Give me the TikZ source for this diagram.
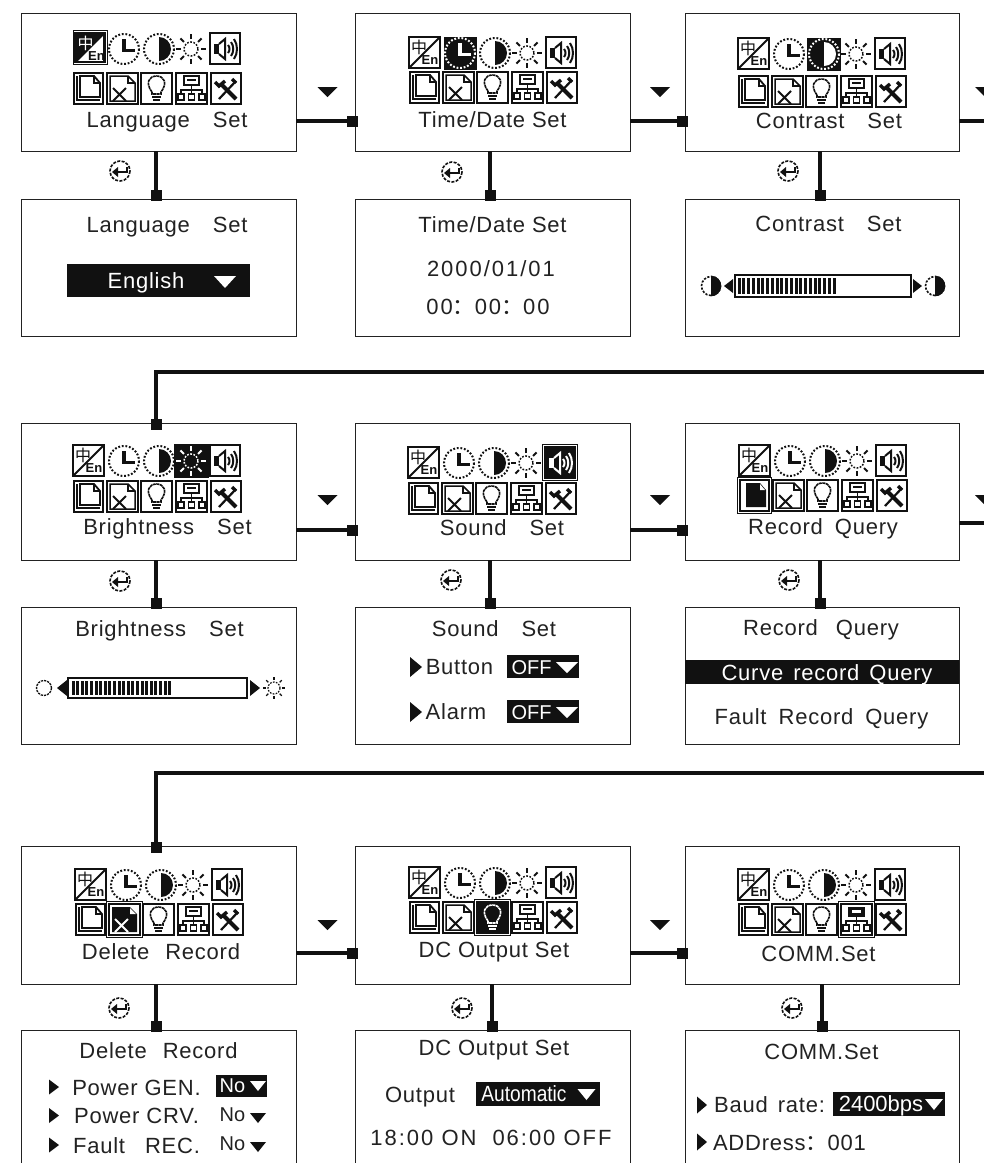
\documentclass[tikz,border=0pt]{standalone}
\usepackage{fontspec}
\setmainfont{Liberation Sans}
\newfontfamily\lcd[LetterSpace=3.5]{Liberation Sans}
\newfontfamily\lcdw[LetterSpace=9]{Liberation Sans}
\newfontfamily\lcdn[FakeStretch=0.87]{Liberation Sans}
\newfontfamily\cjk{Noto Sans CJK SC}
\definecolor{ink}{HTML}{111111}
\definecolor{txt}{HTML}{222222}
\tikzset{
  x=1pt,y=-1pt,
  screen/.style={draw=txt,line width=1,fill=white,inner sep=0,outer sep=0,minimum width=#1},
  link/.style={draw=ink,line width=3.4},
  sq/.style={fill=ink,inner sep=0,minimum size=11pt,outer sep=0},
  label/.style={font=\fontsize{22}{24}\selectfont\lcd,text=txt,inner sep=0,anchor=base},
  widelabel/.style={label,font=\fontsize{22}{24}\selectfont\lcdw},
  wlabel/.style={label,text=white},
  plainw/.style={label,text=white,font=\fontsize{#1}{24}\selectfont\rmfamily},
  narrow/.style={label,text=white,font=\fontsize{22}{24}\selectfont\lcdn},
  smallno/.style={label,font=\fontsize{20}{22}\selectfont\rmfamily},
  iframe/.style={draw=ink,line width=2.6},
  idots/.style={line width=2,dash pattern=on 1.8pt off 1.8pt},
  thinframe/.style={draw=ink,line width=0.8},
}
\newcommand\seticon[2]{\ifnum#1=#2\relax\colorlet{fg}{white}\colorlet{bg}{ink}\else\colorlet{fg}{ink}\colorlet{bg}{white}\fi}
\newcommand\tridown[5]{\fill[#5] (#1-#3/2,#2) -- (#1+#3/2,#2) -- (#1,#2+#4) -- cycle;}
\newcommand\triright[5]{\fill[#5] (#1,#2-#4/2) -- (#1+#3,#2) -- (#1,#2+#4/2) -- cycle;}
\newcommand\trileft[5]{\fill[#5] (#1,#2-#4/2) -- (#1-#3,#2) -- (#1,#2+#4/2) -- cycle;}
\newcommand\moon[3]{%
  \draw[ink,line width=1.6,dash pattern=on 2.2pt off 1.5pt] (#1,#2) circle[radius=#3];
  \begin{scope}\clip (#1,#2-#3-2) rectangle (#1+#3+2,#2+#3+2);
  \fill[ink] (#1,#2) circle[radius=#3+0.8];\end{scope}}
\newcommand\enter[2]{%
  \draw[ink,line width=1.6,dash pattern=on 3pt off 1.4pt] (#1,#2) circle[radius=10];
  \draw[ink,line width=2.2] (#1+7,#2-4) -- (#1+7,#2+1) -- (#1-4,#2+1);
  \fill[ink] (#1-8,#2+1) -- (#1-2,#2-4) -- (#1-2,#2+6) -- cycle;}
% #1 name, #2 x, #3 y, #4 row pitch, #5 selected icon
\newcommand\panel[5]{%
\begin{scope}[shift={(#2,#3)}]
  % language
  \ifnum#5=1\relax\def\langshift{2.5}\else\def\langshift{0}\fi
  \begin{scope}[shift={(\langshift,0)}]\seticon{1}{#5}
    \ifnum#5=1\relax
      \draw[thinframe] (-2.5,-2.5) rectangle (31.5,31.5);
      \fill[ink] (0,0) -- (29,0) -- (0,29) -- cycle;
      \draw[iframe] (0,0) rectangle (29,29);
      \draw[ink,line width=1.8] (0,29) -- (29,0);
    \else
      \draw[iframe] (0,0) rectangle (31,31);
      \draw[ink,line width=1.8] (0,31) -- (31,0);
    \fi
    \node[text=fg,inner sep=0,font=\fontsize{16}{16}\selectfont\cjk] (#1zh) at (10,10) {中};
    \node[text=ink,inner sep=0,font=\fontsize{13}{13}\selectfont\bfseries] (#1en) at (21,23) {En};
  \end{scope}
  % clock
  \begin{scope}\seticon{2}{#5}
    \ifnum#5=2\relax\fill[ink] (35,0) rectangle (68,33);\fi
    \draw[fg,idots] (51,16) circle[radius=15];
    \draw[fg,line width=3.2] (51,6) -- (51,17.5) -- (62,17.5);
  \end{scope}
  % contrast
  \begin{scope}\seticon{3}{#5}
    \ifnum#5=3\relax\fill[ink] (69,0) rectangle (103,33);\fi
    \draw[fg,idots] (86,16) circle[radius=15];
    \begin{scope}\clip (86,0) rectangle (103,33);
      \fill[fg] (86,16) circle[radius=12];\end{scope}
  \end{scope}
  % brightness
  \begin{scope}\seticon{4}{#5}
    \ifnum#5=4\relax\fill[ink] (101,-1) rectangle (136,33);\fi
    \draw[fg,line width=1.5,dash pattern=on 1.7pt off 1.5pt] (118,16) circle[radius=7];
    \foreach \a in {0,45,...,315}{\draw[fg,line width=2] ([shift={(\a:10)}]118,16) -- ([shift={(\a:15)}]118,16);}
  \end{scope}
  % sound
  \begin{scope}\seticon{5}{#5}
    \ifnum#5=5\relax
      \draw[thinframe] (134.5,-2.5) rectangle (169.5,33.5);
      \fill[ink] (137,0) rectangle (167,31);
    \fi
    \draw[iframe] (137,0) rectangle (167,31);
    \fill[fg] (141,11) rectangle (146,21);
    \draw[fg,line width=2] (146,11) -- (152,6) -- (152,26) -- (146,21);
    \draw[fg,line width=2] (155,12) .. controls (157,14) and (157,18) .. (155,20);
    \draw[fg,line width=2] (158,9) .. controls (161,13) and (161,19) .. (158,23);
    \draw[fg,line width=2] (161,6) .. controls (165,12) and (165,20) .. (161,26);
  \end{scope}
  \begin{scope}[shift={(0,#4)}]
    % record
    \ifnum#5=6\relax\draw[thinframe] (-1.5,-2.5) rectangle (32.5,33.5);\fi
    \draw[iframe] (1,0) rectangle (30,31);
    \seticon{6}{#5}
    \ifnum#5=6\relax
      \fill[ink] (7,3) -- (21,3) -- (27,10) -- (27,27) -- (7,27) -- cycle;
      \fill[white] (21,4) -- (21,10) -- (26,10) -- cycle;
    \else
      \draw[ink,line width=1.8] (4,3) -- (4,27) -- (27,27);
      \draw[ink,line width=1.8] (7,3) -- (21,3) -- (27,10) -- (27,24) -- (7,24) -- cycle;
      \draw[ink,line width=1.2] (21,3) -- (21,10) -- (27,10);
    \fi
    % delete
    \ifnum#5=7\relax\draw[thinframe] (31.5,-2.5) rectangle (67.5,33.5);\fi
    \draw[iframe] (34,0) rectangle (65,31);
    \seticon{7}{#5}
    \ifnum#5=7\relax
      \fill[ink] (37,3) -- (55,3) -- (62,10) -- (62,28) -- (37,28) -- cycle;
      \fill[white] (55,4) -- (55,10) -- (61,10) -- cycle;
    \else
      \draw[ink,line width=1.5] (37,3) -- (55,3) -- (62,10) -- (62,28) -- (37,28) -- cycle;
      \draw[ink,line width=1.2] (55,3) -- (55,10) -- (62,10);
    \fi
    \draw[fg,line width=1.8] (40,15) -- (53,28) (53,15) -- (40,28);
    % bulb
    \begin{scope}\seticon{8}{#5}
      \ifnum#5=8\relax
        \draw[thinframe] (65.5,-2.5) rectangle (101.5,33.5);
        \fill[ink] (68,0) rectangle (99,31);
      \fi
      \draw[iframe] (68,0) rectangle (99,31);
      \draw[fg,line width=1.6,dash pattern=on 3pt off 0.6pt] (79,19) .. controls (72,10) and (76,3) .. (83.5,3) .. controls (91,3) and (95,10) .. (88,19) -- (88,21) -- (79,21) -- cycle;
      \draw[fg,line width=1.8] (79,24) -- (88,24) (80,27) -- (87,27);
    \end{scope}
    % network
    \ifnum#5=9\relax\draw[thinframe] (100.5,-2.5) rectangle (136.5,33.5);\fi
    \draw[iframe] (103,0) rectangle (134,31);
    \ifnum#5=9\relax\fill[ink] (110,3) rectangle (127,13);\fill[white] (114,6) rectangle (123,9);\else
      \draw[ink,line width=1.6] (111,3) rectangle (126,12);
      \draw[ink,line width=1.2] (114,7) -- (123,7);\fi
    \draw[ink,line width=1.6] (118.5,12) -- (118.5,21) (108,21) -- (108,17) -- (129,17) -- (129,21);
    \draw[ink,line width=1.5] (105,21) rectangle (111,27) (115.5,21) rectangle (121.5,27) (126,21) rectangle (132,27);
    % tools
    \draw[iframe] (138,0) rectangle (168,31);
    \draw[ink,line width=4] (149,12) -- (163,26);
    \draw[ink,line width=2.2] (163,8) -- (146,26);
    \draw[ink,line width=3.4] (142,9) -- (146,13) -- (152,8);
    \draw[ink,line width=3.4] (159,6) -- (163,10);
  \end{scope}
\end{scope}}
\newcommand\hlink[4]{%
  \node[sq] (#4) at ([xshift=-3pt,yshift=#3]#2.west) {};
  \draw[link] ([yshift=#3]#1.east) -- (#4.center);}
\newcommand\vlink[4]{%
  \node[sq] (#4) at ([xshift=#3,yshift=4pt]#2.north) {};
  \draw[link] ([xshift=#3]#1.south) -- (#4.center);}
\newcommand\slider[4]{\draw[ink,line width=2] (#1,#3) rectangle (#2,#4);}
\begin{document}
\begin{tikzpicture}
\useasboundingbox (0,0) rectangle (984,1163);
\clip (0,0) rectangle (984,1163);
\fill[white] (0,0) rectangle (984,1163);
% screens
\node[screen=275pt,minimum height=138pt] (a1) at (158.5,82) {};
\node[screen=275pt,minimum height=138pt] (a2) at (492.5,82) {};
\node[screen=274pt,minimum height=138pt] (a3) at (822,82) {};
\node[screen=275pt,minimum height=137pt] (b1) at (158.5,267.5) {};
\node[screen=275pt,minimum height=137pt] (b2) at (492.5,267.5) {};
\node[screen=274pt,minimum height=137pt] (b3) at (822,267.5) {};
\node[screen=275pt,minimum height=137pt] (c1) at (158.5,491.5) {};
\node[screen=275pt,minimum height=137pt] (c2) at (492.5,491.5) {};
\node[screen=274pt,minimum height=137pt] (c3) at (822,491.5) {};
\node[screen=275pt,minimum height=137pt] (d1) at (158.5,675.5) {};
\node[screen=275pt,minimum height=137pt] (d2) at (492.5,675.5) {};
\node[screen=274pt,minimum height=137pt] (d3) at (822,675.5) {};
\node[screen=275pt,minimum height=138pt] (e1) at (158.5,915) {};
\node[screen=275pt,minimum height=138pt] (e2) at (492.5,915) {};
\node[screen=274pt,minimum height=138pt] (e3) at (822,915) {};
\node[screen=275pt,minimum height=160pt] (f1) at (158.5,1110) {};
\node[screen=275pt,minimum height=160pt] (f2) at (492.5,1110) {};
\node[screen=274pt,minimum height=160pt] (f3) at (822,1110) {};
% connectors
\hlink{a1}{a2}{-39pt}{s1}
\hlink{a2}{a3}{-39pt}{s2}
\vlink{a1}{b1}{-2.5pt}{s3}
\vlink{a2}{b2}{-2.5pt}{s4}
\vlink{a3}{b3}{-2pt}{s5}
\hlink{c1}{c2}{-38.5pt}{s6}
\hlink{c2}{c3}{-38.5pt}{s7}
\vlink{c1}{d1}{-2.5pt}{s8}
\vlink{c2}{d2}{-2.5pt}{s9}
\vlink{c3}{d3}{-2pt}{s10}
\hlink{e1}{e2}{-38pt}{s11}
\hlink{e2}{e3}{-38pt}{s12}
\vlink{e1}{f1}{-2.5pt}{s13}
\vlink{e2}{f2}{-0.5pt}{s14}
\vlink{e3}{f3}{0pt}{s15}
\coordinate (r1) at (984,121);
\coordinate (r2) at (984,523);
\coordinate (bus1) at (984,372);
\coordinate (bus2) at (984,773);
\draw[link] ([yshift=-39pt]a3.east) -- (r1);
\draw[link] ([yshift=-31.5pt]c3.east) -- (r2);
\node[sq] (s16) at ([xshift=-2.5pt,yshift=-1pt]c1.north) {};
\node[sq] (s17) at ([xshift=-2.5pt,yshift=-1pt]e1.north) {};
\draw[link] (bus1) -| (s16.center);
\draw[link] (bus2) -| (s17.center);
% down triangles between screens
\tridown{327.5}{87}{20}{10}{ink}
\tridown{660}{87}{20}{10}{ink}
\tridown{985}{87}{20}{10}{ink}
\tridown{327.5}{495}{20}{10}{ink}
\tridown{660}{495}{20}{10}{ink}
\tridown{985}{495}{20}{10}{ink}
\tridown{327.5}{920}{20}{10}{ink}
\tridown{660}{920}{20}{10}{ink}
% enter icons
\enter{120}{171}\enter{452}{172}\enter{788}{171}
\enter{120}{581}\enter{451}{580}\enter{789}{580}
\enter{119}{1008}\enter{462}{1008}\enter{792}{1008}
% icon panels
\panel{p1}{73}{33}{40}{1}
\panel{p2}{409}{37}{35}{2}
\panel{p3}{738}{38}{38}{3}
\panel{p4}{73}{445}{36}{4}
\panel{p5}{408}{447}{36}{5}
\panel{p6}{739}{445}{35}{6}
\panel{p7}{75}{869}{35}{7}
\panel{p8}{409}{867}{35}{8}
\panel{p9}{738}{869}{35}{9}
% menu titles
\node[label] (t1) at (167,127) {Language\hspace{23pt}Set};
\node[label] (t2) at (492.5,127) {Time/Date Set};
\node[label] (t3) at (829,128) {Contrast\hspace{23pt}Set};
\node[label] (t4) at (167.5,534) {Brightness\hspace{23pt}Set};
\node[label] (t5) at (502,535) {Sound\hspace{23pt}Set};
\node[label] (t6) at (823,534) {Record\hspace{12pt}Query};
\node[label] (t7) at (161,959) {Delete\hspace{16pt}Record};
\node[label] (t8) at (494,957) {DC Output Set};
\node[label] (t9) at (818.5,961) {COMM.Set};
% language
\node[label] (l1) at (167,232) {Language\hspace{23pt}Set};
\fill[ink] (67,264) rectangle (250,297);
\node[wlabel] (l2) at (146,288) {English};
\tridown{225}{276}{22}{12}{white}
% time
\node[label] (l3) at (492.5,232) {Time/Date Set};
\node[widelabel] (l4) at (491,276) {2000/01/01};
\node[widelabel] (l5) at (488,314) {00{\cjk：}00{\cjk：}00};
% contrast
\node[label] (l6) at (828.5,231) {Contrast\hspace{23pt}Set};
\moon{711}{286}{9.5}\trileft{733}{286}{9}{14}{ink}
\slider{735}{911}{275}{297}
\foreach \i in {0,...,20}{\fill[ink] (737.5+\i*4.75,278) rectangle +(3.1,16);}
\triright{913}{286}{9}{14}{ink}\moon{935}{286}{9.5}
% brightness
\node[label] (l7) at (159.5,636) {Brightness\hspace{23pt}Set};
\draw[ink,line width=1.3,dash pattern=on 2.2pt off 1pt] (44,688) circle[radius=7.5];
\trileft{67}{688}{10}{16}{ink}
\slider{68}{247}{678}{698}
\foreach \i in {0,...,21}{\fill[ink] (71.5+\i*4.6,681) rectangle +(3,14);}
\triright{250}{688}{10}{16}{ink}
\draw[ink,line width=1.2,dash pattern=on 1.7pt off 1.3pt] (274,688) circle[radius=6];
\foreach \a in {0,45,...,315}{\draw[ink,line width=1.3] ([shift={(\a:8)}]274,688) -- ([shift={(\a:11)}]274,688);}
% sound
\node[label] (l8) at (494,636) {Sound\hspace{23pt}Set};
\triright{410}{667}{12}{20}{ink}
\node[label] (l9) at (459.5,674) {Button};
\fill[ink] (507,655) rectangle (579,678);
\node[plainw=20] (l10) at (531.5,674) {OFF};
\tridown{567}{662}{22}{11}{white}
\triright{410}{712}{12}{20}{ink}
\node[label] (l11) at (456,719) {Alarm};
\fill[ink] (507,700) rectangle (579,723);
\node[plainw=20] (l12) at (531.5,719) {OFF};
\tridown{567}{707}{22}{11}{white}
% record
\node[label] (l13) at (821,635) {Record\hspace{18pt}Query};
\fill[ink] (685,660) rectangle (959,684);
\node[wlabel] (l14) at (827,680) {Curve\hspace{10pt}record\hspace{10pt}Query};
\node[label] (l15) at (821.5,724) {Fault\hspace{12pt}Record\hspace{12pt}Query};
% delete
\node[label] (l16) at (158.5,1058) {Delete\hspace{16pt}Record};
\triright{49}{1087}{10}{15}{ink}
\node[label] (l17) at (136.5,1095) {Power GEN.};
\fill[ink] (216,1075) rectangle (267,1097);
\node[plainw=20] (l18) at (232.5,1092) {No};
\tridown{258}{1081}{16}{10}{white}
\triright{49}{1115.5}{10}{15}{ink}
\node[label] (l19) at (136.5,1123) {Power CRV.};
\node[smallno] (l20) at (232.5,1121) {No};
\tridown{258}{1113}{16}{10}{ink}
\triright{49}{1145}{10}{15}{ink}
\node[label] (l21) at (136.5,1153) {Fault\hspace{20pt}REC.};
\node[smallno] (l22) at (232.5,1150) {No};
\tridown{258}{1142}{16}{10}{ink}
% DC output
\node[label] (l23) at (494,1055) {DC Output Set};
\node[label] (l24) at (420,1102) {Output};
\fill[ink] (476,1082) rectangle (600,1106);
\node[narrow] (l25) at (524,1101) {Automatic};
\tridown{586.5}{1089}{18}{11}{white}
\node[widelabel] (l26) at (491,1145) {18:00 ON\hspace{16pt}06:00 OFF};
% COMM
\node[label] (l27) at (821.5,1059) {COMM.Set};
\triright{697}{1105}{10}{17}{ink}
\node[label] (l28) at (769.5,1112) {Baud\hspace{10pt}rate:};
\fill[ink] (833,1092) rectangle (945,1116);
\node[plainw=22] (l29) at (881,1111) {2400bps};
\tridown{934}{1099}{18}{11}{white}
\triright{697}{1142}{10}{17}{ink}
\node[label] (l30) at (789.5,1150) {ADDress{\cjk：}001};
\end{tikzpicture}
\end{document}
